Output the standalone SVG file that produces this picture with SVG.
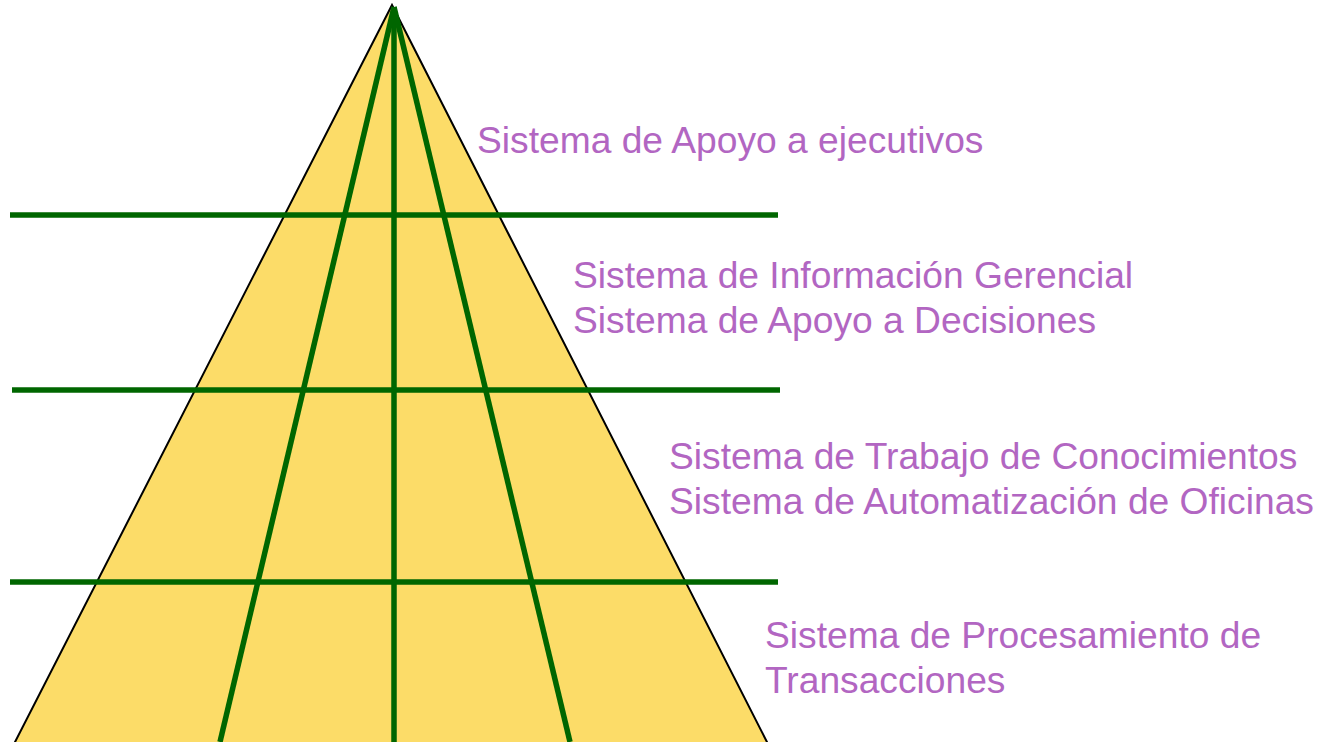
<svg xmlns="http://www.w3.org/2000/svg" width="1328" height="742" viewBox="0 0 1328 742">
<style>
.g{stroke:#006600;stroke-width:5.5;fill:none}
.t{font-family:"Liberation Sans",Arial,sans-serif;font-size:37.2px;fill:#b266c2}
</style>
<rect width="1328" height="742" fill="#ffffff"/>
<g id="pyramid">
<polygon points="392,5 14,744 768,744" fill="#fcdc68" stroke="#000000" stroke-width="2"/>
</g>
<g id="connectors">
<line class="g" x1="394" y1="7" x2="394" y2="742"/>
<line class="g" x1="394" y1="7" x2="220" y2="742"/>
<line class="g" x1="394" y1="7" x2="570" y2="742"/>
<line class="g" x1="10" y1="215" x2="778" y2="215"/>
<line class="g" x1="12" y1="390" x2="780" y2="390"/>
<line class="g" x1="10" y1="582" x2="778" y2="582"/>
</g>
<g id="level1"><text class="t" x="477" y="153">Sistema de Apoyo a ejecutivos</text></g>
<g id="level2"><text class="t" x="573" y="288">Sistema de Información Gerencial</text><text class="t" x="573" y="333">Sistema de Apoyo a Decisiones</text></g>
<g id="level3"><text class="t" x="669" y="469">Sistema de Trabajo de Conocimientos</text><text class="t" x="669" y="514">Sistema de Automatización de Oficinas</text></g>
<g id="level4"><text class="t" x="765" y="648">Sistema de Procesamiento de</text><text class="t" x="765" y="693">Transacciones</text></g>
</svg>
